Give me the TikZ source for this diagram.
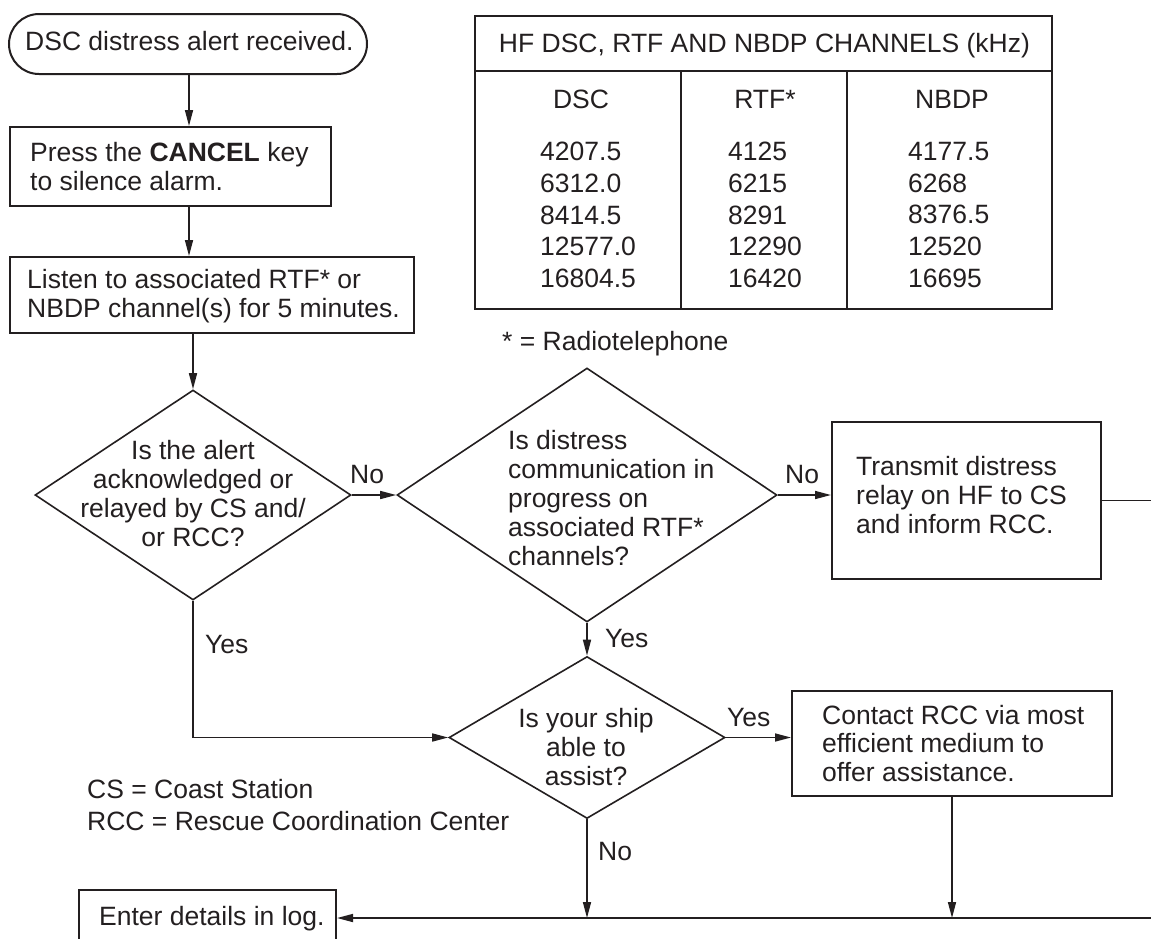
\documentclass[tikz,border=0pt]{standalone}
\usepackage{fontspec}
\setmainfont{Liberation Sans}
\usetikzlibrary{arrows.meta,shapes.geometric}
\definecolor{ink}{RGB}{35,31,32}
\begin{document}
\begin{tikzpicture}[x=1pt,y=-1pt,
  every node/.style={font=\fontsize{26.5}{29}\selectfont, text=ink, inner sep=0pt},
  boxs/.style={draw=ink, line width=2pt, rectangle},
  dia/.style={draw=ink, line width=1.6pt, diamond},
  txt/.style={align=left, anchor=north west},
  ctxt/.style={align=center, anchor=north},
  lbl/.style={anchor=base west},
  arr/.style={draw=ink, line width=1.6pt, -{Triangle[length=16pt,width=8pt]}},
  ln/.style={draw=ink, line width=1.6pt}]
\useasboundingbox (0,0) rectangle (1151,938);
\clip (0,0) rectangle (1151,938);

% --- flow boxes ---
\node[boxs, rounded corners=30pt, minimum width=358pt, minimum height=60pt] (start) at (188,44) {};
\node[lbl] (startt) at (25,50) {DSC distress alert received.};

\node[boxs, minimum width=321pt, minimum height=79pt] (press) at (170.5,166.5) {};
\node[txt] (presst) at (30,142) {Press the \textbf{CANCEL} key\\to silence alarm.};

\node[boxs, minimum width=404pt, minimum height=76pt] (listen) at (212,295) {};
\node[txt] (listent) at (27,269) {Listen to associated RTF* or\\NBDP channel(s) for 5 minutes.};

\node[dia, minimum width=316pt, minimum height=210pt] (d1) at (193,495) {};
\node[ctxt] (d1t) at (193,440) {Is the alert\\acknowledged or\\relayed by CS and/\\or RCC?};

\node[dia, minimum width=380pt, minimum height=254pt] (d2) at (587,495) {};
\node[txt] (d2t) at (508,430) {Is distress\\communication in\\progress on\\associated RTF*\\channels?};

\node[boxs, minimum width=269pt, minimum height=157pt] (tr) at (966.5,500.5) {};
\node[txt] (trt) at (856,456) {Transmit distress\\relay on HF to CS\\and inform RCC.};

\node[dia, minimum width=276pt, minimum height=162pt] (d3) at (587,737.5) {};
\node[ctxt] (d3t) at (586,708) {Is your ship\\able to\\assist?};

\node[boxs, minimum width=320pt, minimum height=105pt] (ct) at (952,743.5) {};
\node[txt, font=\fontsize{26.5}{28.5}\selectfont] (ctt) at (822,705) {Contact RCC via most\\efficient medium to\\offer assistance.};

\node[boxs, minimum width=257pt, minimum height=56pt] (log) at (207.5,918) {};
\node[lbl] (logt) at (99,925) {Enter details in log.};

% --- table ---
\node[boxs, minimum width=577pt, minimum height=293pt] (tbl) at (763.5,162.5) {};
\draw[ink, line width=2pt] (tbl.west |- 0,71) -- (tbl.east |- 0,71);
\draw[ink, line width=2pt] (681,71) -- (681,309);
\draw[ink, line width=2pt] (847,71) -- (847,309);
\node[anchor=base] (th) at (764.5,52) {HF DSC, RTF AND NBDP CHANNELS (kHz)};
\node[anchor=base] (c1) at (581,108) {DSC};
\node[anchor=base] (c2) at (765,108) {RTF*};
\node[anchor=base] (c3) at (952,108) {NBDP};
\node[txt, font=\fontsize{26.5}{31.75}\selectfont] (n1) at (540,142) {4207.5\\6312.0\\8414.5\\12577.0\\16804.5};
\node[txt, font=\fontsize{26.5}{31.75}\selectfont] (n2) at (728,142) {4125\\6215\\8291\\12290\\16420};
\node[txt, font=\fontsize{26.5}{31.75}\selectfont] (n3) at (908,142) {4177.5\\6268\\8376.5\\12520\\16695};

% --- notes ---
\node[lbl] (rt) at (502,350) {* = Radiotelephone};
\node[lbl] (cs) at (87,798) {CS = Coast Station};
\node[lbl] (rcc) at (87,830) {RCC = Rescue Coordination Center};

% --- labels ---
\node[lbl] (no1) at (350,483) {No};
\node[lbl] (yes1) at (205,653) {Yes};
\node[lbl] (no2) at (785,483) {No};
\node[lbl] (yes2) at (605,647) {Yes};
\node[lbl] (yes3) at (727,726) {Yes};
\node[lbl] (no3) at (598,860) {No};

% --- connectors ---
\coordinate (ax) at (189,0);
\coordinate (redge) at (1151,500.5);
\coordinate (bedge) at (1151,918);
\draw[arr] (start.south -| ax) -- (press.north -| ax);
\draw[arr] (press.south -| ax) -- (listen.north -| ax);
\draw[arr] (listen.south -| d1.north) -- (d1.north);
\draw[arr] (d1.east) -- (d2.west);
\draw[arr] (d2.east) -- (d2.east -| tr.west);
\draw[ln] (tr.east) -- (redge);
\draw[arr] (d2.south) -- (d3.north);
\draw[arr] (d1.south) |- (d3.west);
\draw[arr] (d3.east) -- (d3.east -| ct.west);
\draw[arr] (d3.south) -- (d3.south |- bedge);
\draw[arr] (ct.south) -- (ct.south |- bedge);
\draw[arr] (bedge) -- (log.east);
\end{tikzpicture}
\end{document}
